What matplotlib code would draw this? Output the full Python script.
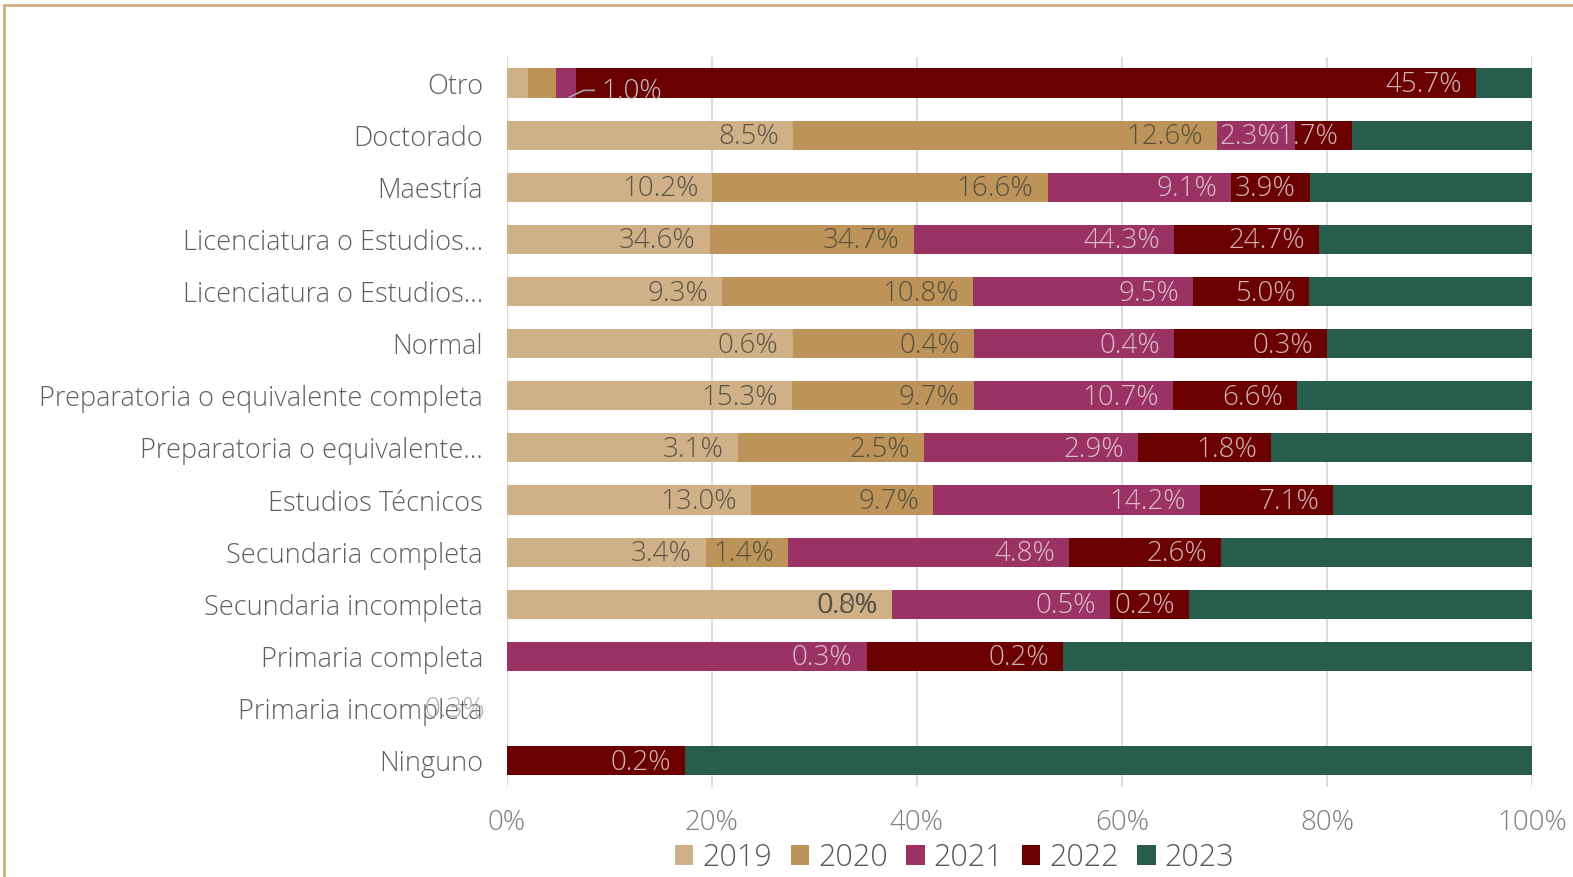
import numpy as np
import matplotlib.pyplot as plt
from matplotlib.patches import Rectangle

plt.rcParams['font.family'] = ['Open Sans', 'DejaVu Sans']
plt.rcParams['font.weight'] = 'light'

# categories, top to bottom
categories = ['Otro', 'Doctorado', 'Maestría', 'Licenciatura o Estudios…',
              'Licenciatura o Estudios…', 'Normal',
              'Preparatoria o equivalente completa',
              'Preparatoria o equivalente…', 'Estudios Técnicos',
              'Secundaria completa', 'Secundaria incompleta',
              'Primaria completa', 'Primaria incompleta', 'Ninguno']
years = ['2019', '2020', '2021', '2022', '2023']
nan = np.nan
v2019 = [1.08, 8.5, 10.2, 34.6, 9.3, 0.60, 15.3, 3.1, 13.0, 3.4, 0.83, nan, nan, nan]
v2020 = [1.46, 12.6, 16.6, 34.7, 10.8, 0.38, 9.7, 2.5, 9.7, 1.4, 0.0, nan, nan, nan]
v2021 = [1.0, 2.3, 9.1, 44.3, 9.5, 0.42, 10.7, 2.87, 14.2, 4.8, 0.47, 0.33, nan, nan]
v2022 = [45.7, 1.7, 3.9, 24.7, 5.0, 0.32, 6.6, 1.78, 7.1, 2.6, 0.17, 0.18, nan, 0.2]
v2023 = [2.87, 5.35, 11.0, 36.3, 9.6, 0.43, 12.6, 3.5, 10.6, 5.3, 0.74, 0.43, nan, 0.95]
colors = ['#CFB087', '#BC9459', '#9A3264', '#6B0000', '#285C4D']

series = [v2019, v2020, v2021, v2022, v2023]
data = np.array(series, dtype=float)            # years x categories
totals = np.nansum(data, axis=0)
totals[totals == 0] = 1
shares = np.nan_to_num(data) / totals * 100

# labels not printed inside the bar
hidden = {(0, 0), (0, 1), (0, 2)}
stray_label = (12, '0.3%')

fig = plt.figure(figsize=(15.73, 8.77), dpi=100)
ax = fig.add_axes([0.322, 0.103, 0.652, 0.832])

y = np.arange(len(categories))
h = 0.56
left = np.zeros(len(categories))
bars = []
for i, yr in enumerate(years):
    b = ax.barh(y, shares[i], left=left, height=h, color=colors[i],
                label=yr, linewidth=0, zorder=2)
    bars.append(b)
    for j in range(len(categories)):
        if np.isnan(data[i, j]) or i == 4 or (j, i) in hidden:
            continue
        tc = '#3f3f38' if i < 2 else '#eadfe4'
        ax.annotate(f'{data[i, j]:.1f}%', xy=(left[j] + shares[i, j], y[j]),
                    xytext=(-14, -2), textcoords='offset pixels',
                    ha='right', va='center', fontsize=20, color=tc,
                    alpha=0.8, zorder=3)
    left = left + shares[i]

# small 2021 segment of "Otro" gets a leader line
x0 = shares[0, 0] + shares[1, 0] + shares[2, 0] * 0.6
yb = y[0] + h / 2
ax.plot([x0, x0 + 1.5, x0 + 2.6], [yb, yb - 0.14, yb - 0.14],
        color='#a6a6a6', lw=1.2, zorder=3, solid_capstyle='butt')
t = ax.text(x0 + 3.2, yb - 0.1, f'{data[2, 0]:.1f}%', ha='left',
            va='center', fontsize=20, color='#bfbfbf', zorder=3)
t.set_clip_path(bars[3].patches[0])

ax.annotate(stray_label[1], xy=(0, y[stray_label[0]]), xytext=(-52, -2),
            textcoords='offset pixels', ha='center', va='center',
            fontsize=20, color='#b0b0b0', annotation_clip=False, zorder=3)

ax.set_xlim(0, 100)
ax.set_ylim(len(categories) - 0.5, -0.5)
ax.set_yticks(y)
ax.set_yticklabels(categories, va='center_baseline')
ax.set_xticks(np.arange(0, 101, 20))
ax.set_xticklabels([f'{v}%' for v in range(0, 101, 20)])
ax.tick_params(axis='y', length=0, pad=17, labelsize=19.5, labelcolor='#5f5f5f')
ax.tick_params(axis='x', length=0, pad=16, labelsize=20, labelcolor='#7f7f7f')
ax.grid(axis='x', color='#d9d9d9', lw=1.3, zorder=0)
for s in ax.spines.values():
    s.set_visible(False)

leg = fig.legend(loc='center', bbox_to_anchor=(0.607, 0.022), ncol=5,
                 frameon=False, fontsize=22, handlelength=0.6,
                 handleheight=0.6, handletextpad=0.3, columnspacing=0.6)
for txt in leg.get_texts():
    txt.set_color('#595959')

# outer frame
fig.add_artist(Rectangle((0.0025, -0.01), 1.1, 1.004, transform=fig.transFigure,
                         fill=False, edgecolor='#CFAE83', lw=2))

fig.savefig('out.png', dpi=100)
